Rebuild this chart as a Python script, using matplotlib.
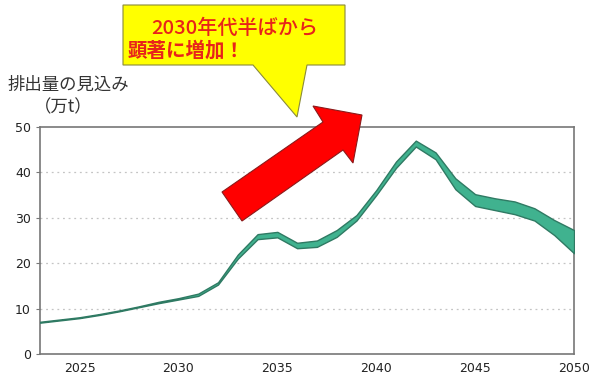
import matplotlib
matplotlib.use("Agg")
import matplotlib.pyplot as plt
from matplotlib.patches import Polygon

plt.rcParams['font.family'] = ['DejaVu Sans']
JP = ['Noto Sans CJK JP', 'DejaVu Sans']

years = list(range(2023, 2051))
upper = [7.1, 7.6, 8.1, 8.8, 9.6, 10.5, 11.5, 12.3, 13.3, 15.8, 21.9, 26.4, 26.9, 24.5,
         25.0, 27.3, 30.6, 36.1, 42.4, 47.0, 44.4, 38.7, 35.2, 34.3, 33.6, 32.1, 29.5, 27.3]
lower = [6.9, 7.4, 7.9, 8.6, 9.4, 10.3, 11.2, 12.0, 12.8, 15.3, 21.0, 25.3, 25.7, 23.3,
         23.6, 25.8, 29.4, 35.0, 41.0, 45.7, 42.9, 36.3, 32.6, 31.7, 30.8, 29.4, 26.2, 22.2]
xticks = [2025, 2030, 2035, 2040, 2045, 2050]
yticks = [0, 10, 20, 30, 40, 50]

fig = plt.figure(figsize=(6, 3.82), dpi=100)
ax = fig.add_axes([0.0667, 0.0733, 0.890, 0.5942])

ax.fill_between(years, lower, upper, facecolor='#40b28f', edgecolor='#2f7a63', linewidth=1.0, zorder=3)

ax.set_xlim(2023, 2050)
ax.set_ylim(0, 50)
ax.set_xticks(xticks)
ax.set_yticks(yticks)
ax.tick_params(labelsize=9, colors='#222222', length=3, color='#777777')
ax.tick_params(axis='x', length=0, pad=6)
for s in ax.spines.values():
    s.set_color('#777777')
    s.set_linewidth(1.2)
for v in [10, 20, 30, 40]:
    ax.axhline(v, color='#c4c4c4', linestyle=(0, (1.5, 3)), linewidth=0.9, zorder=1)

def fp(pts):
    return [(x / 600, 1 - y / 382) for x, y in pts]

# y-axis title
fig.text(8 / 600, 1 - 85 / 382, '排出量の見込み', family=JP, fontsize=12.5, color='#333333', va='center', ha='left')
fig.text(34 / 600, 1 - 107 / 382, '（万t）', family=JP, fontsize=12.5, color='#333333', va='center', ha='left')

# callout
callout = Polygon(fp([(123, 5), (345, 5), (345, 65), (307, 65), (297, 117), (253, 65), (123, 65)]),
                  closed=True, transform=fig.transFigure, facecolor='#ffff00', edgecolor='#8a8a3a',
                  linewidth=0.8, zorder=5)
fig.patches.append(callout)
fig.text(235 / 600, 1 - 28 / 382, '2030年代半ばから', family=JP, fontsize=14.5, fontweight='medium',
         color='#e8231a', ha='center', va='center', zorder=6)
fig.text(128 / 600, 1 - 51 / 382, '顕著に増加！', family=JP, fontsize=14, fontweight='bold',
         color='#e8231a', ha='left', va='center', zorder=6)

# big arrow
arrow = Polygon(fp([(222, 192), (323, 122), (313, 106), (362, 115), (353, 163), (343, 150), (242, 221)]),
                closed=True, transform=fig.transFigure, facecolor='#ff0000', edgecolor='#8b1a1a',
                linewidth=0.8, zorder=6)
fig.patches.append(arrow)

fig.savefig('out.png', dpi=100)
